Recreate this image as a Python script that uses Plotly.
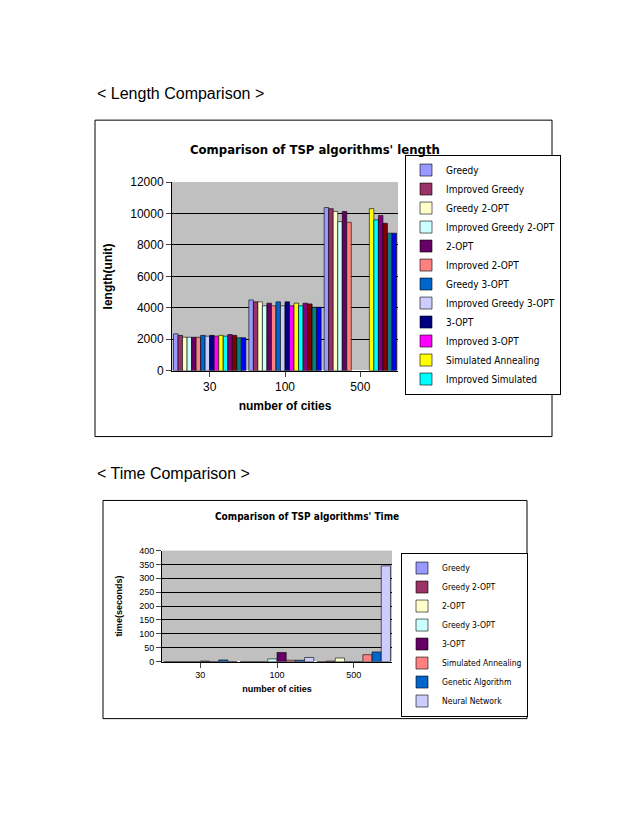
import plotly.graph_objects as go

cats = ["30", "100", "500"]
len_names = ["Greedy", "Improved Greedy", "Greedy 2-OPT", "Improved Greedy 2-OPT", "2-OPT",
             "Improved 2-OPT", "Greedy 3-OPT", "Improved Greedy 3-OPT", "3-OPT", "Improved 3-OPT",
             "Simulated Annealing", "Improved Simulated", "Genetic Algorithm",
             "Improved Genetic Algorithm", "Neural Network", "Improved Neural Network"]
len_colors = ["#9999FF", "#993366", "#FFFFCC", "#CCFFFF", "#660066", "#FF8080", "#0066CC", "#CCCCFF",
              "#000080", "#FF00FF", "#FFFF00", "#00FFFF", "#800080", "#800000", "#008080", "#0000FF"]
len_vals = [
    [2350, 4500, 10380], [2250, 4380, 10310], [2130, 4380, 10130], [2130, 4130, 9480],
    [2130, 4300, 10130], [2130, 4130, 9440], [2250, 4380, None], [2200, 4130, None],
    [2250, 4380, None], [2200, 4130, None], [2250, 4300, 10310], [2200, 4130, 9600],
    [2300, 4300, 9880], [2250, 4250, 9380], [2100, 4040, 8750], [2100, 4040, 8750],
]
time_names = ["Greedy", "Greedy 2-OPT", "2-OPT", "Greedy 3-OPT", "3-OPT",
              "Simulated Annealing", "Genetic Algorithm", "Neural Network"]
time_colors = ["#9999FF", "#993366", "#FFFFCC", "#CCFFFF", "#660066", "#FF8080", "#0066CC", "#CCCCFF"]
time_vals = [
    [0, 0, 0], [0, 0, 2], [0, 0, 13], [0, 10, 0],
    [2, 33, 0], [0, 5, 25], [6, 5, 35], [0, 15, 345],
]

W, H = 622, 810
OFF = 8
fx = lambda p: (p - OFF) / W
fy = lambda p: 1 - (p - OFF) / H

fig = go.Figure()
for i, (n, c, v) in enumerate(zip(len_names, len_colors, len_vals)):
    fig.add_trace(go.Bar(x=cats, y=v, name=n, marker=dict(color=c, line=dict(color="black", width=0.6)),
                         xaxis="x", yaxis="y", legend="legend", showlegend=i < 12))
for n, c, v in zip(time_names, time_colors, time_vals):
    fig.add_trace(go.Bar(x=cats, y=v, name=n, marker=dict(color=c, line=dict(color="black", width=0.6)),
                         xaxis="x2", yaxis="y2", legend="legend2"))

font = "Liberation Sans, Arial, sans-serif"
narrow = "Liberation Sans Narrow, DejaVu Sans Condensed, sans-serif"
fig.update_layout(
    width=W, height=H, margin=dict(l=0, r=0, t=0, b=0), paper_bgcolor="white",
    plot_bgcolor="#C0C0C0", barmode="group", bargap=0.04, bargroupgap=0,
    font=dict(family=font, color="black"),
    xaxis=dict(domain=[fx(172), fx(398)], anchor="y", showline=True, linecolor="black",
               ticks="outside", tickfont=dict(size=12), showgrid=False,
               title=dict(text="<b>number of cities</b>", font=dict(size=12), standoff=8)),
    yaxis=dict(domain=[fy(370), fy(178)], anchor="x", range=[0, 12000], dtick=2000, tickformat="d",
               showline=True, linecolor="black", ticks="outside", gridcolor="black", gridwidth=1,
               tickfont=dict(size=12), title=dict(text="<b>length(unit)</b>", font=dict(size=12))),
    xaxis2=dict(domain=[fx(162), fx(392)], anchor="y2", showline=True, linecolor="black",
                ticks="outside", tickfont=dict(size=9), showgrid=False,
                title=dict(text="<b>number of cities</b>", font=dict(size=9), standoff=6)),
    yaxis2=dict(domain=[fy(666), fy(553)], anchor="x2", range=[0, 400], dtick=50, tickformat="d",
                showline=True, linecolor="black", ticks="outside", gridcolor="black", gridwidth=1,
                tickfont=dict(size=9), title=dict(text="<b>time(seconds)</b>", font=dict(size=9))),
    legend=dict(x=fx(405), y=fy(150), xanchor="left", yanchor="top", bgcolor="white",
                bordercolor="black", borderwidth=1, font=dict(size=10, family=narrow),
                tracegroupgap=0, traceorder="normal", itemwidth=30),
    legend2=dict(x=fx(401), y=fy(555), xanchor="left", yanchor="top", bgcolor="white",
                 bordercolor="black", borderwidth=1, font=dict(size=8.5, family=narrow),
                 traceorder="normal", itemwidth=30),
    shapes=[
        dict(type="rect", xref="paper", yref="paper", x0=fx(95), x1=fx(552), y0=fy(437), y1=fy(115),
             line=dict(color="black", width=1)),
        dict(type="rect", xref="paper", yref="paper", x0=fx(103), x1=fx(527), y0=fy(724), y1=fy(502),
             line=dict(color="black", width=1)),
    ],
    annotations=[
        dict(text="< Length Comparison >", x=fx(95), y=fy(88), xref="paper", yref="paper",
             xanchor="left", yanchor="middle", showarrow=False, font=dict(size=16)),
        dict(text="< Time Comparison >", x=fx(95), y=fy(475), xref="paper", yref="paper",
             xanchor="left", yanchor="middle", showarrow=False, font=dict(size=16)),
        dict(text="<b>Comparison of TSP algorithms' length</b>", x=fx(315), y=fy(135), xref="paper",
             yref="paper", showarrow=False, font=dict(size=13, family=narrow)),
        dict(text="<b>Comparison of TSP algorithms' Time</b>", x=fx(307), y=fy(518), xref="paper",
             yref="paper", showarrow=False, font=dict(size=10, family=narrow)),
    ],
)
fig.write_html("out.html")
